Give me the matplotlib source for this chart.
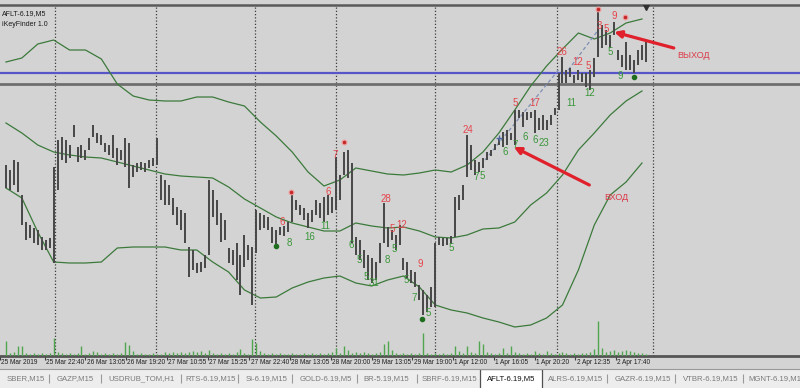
import matplotlib
matplotlib.use("Agg")
import matplotlib.pyplot as plt
import numpy as np
from matplotlib.patches import Rectangle

plt.rcParams['font.family'] = ['Liberation Sans', 'DejaVu Sans']

# --- price bars (AFLT-6.19, M5), one value per bar, in chart points ---
highs = [191, 186, 196, 194, 161, 134, 131, 128, 126, 119,
         116, 118, 189, 216, 219, 216, 211, 231, 209, 211,
         206, 218, 231, 223, 221, 213, 211, 221, 208, 206,
         218, 213, 191, 193, 194, 193, 196, 198, 218, 181,
         176, 171, 158, 149, 146, 143, 109, 106, 93, 94,
         101, 176, 166, 156, 143, 136, 108, 106, 113, 101,
         121, 111, 109, 146, 143, 141, 139, 129, 126, 129,
         130, 134, 163, 156, 151, 148, 143, 146, 156, 153,
         159, 161, 159, 199, 181, 204, 206, 193, 119, 116,
         106, 101, 98, 94, 113, 153, 129, 126, 121, 131,
         98, 94, 86, 84, 71, 66, 61, 69, 113, 119,
         118, 118, 120, 159, 161, 171, 221, 211, 196, 194,
         198, 204, 206, 212, 218, 224, 226, 223, 246, 246,
         244, 244, 244, 246, 238, 241, 236, 241, 248, 283,
         299, 286, 288, 281, 286, 283, 283, 286, 298, 346,
         331, 326, 321, 334, 306, 301, 314, 301, 296, 306,
         311, 316]
lows = [168, 166, 171, 164, 131, 116, 118, 113, 111, 106,
        106, 108, 93, 166, 196, 193, 198, 219, 194, 198,
        196, 206, 219, 213, 211, 204, 201, 198, 191, 196,
        189, 168, 179, 184, 186, 184, 188, 190, 191, 156,
        151, 151, 141, 131, 126, 113, 79, 86, 83, 84,
        88, 101, 139, 131, 114, 116, 93, 91, 76, 61,
        89, 96, 51, 103, 126, 128, 126, 113, 111, 121,
        120, 124, 134, 146, 141, 136, 128, 134, 141, 138,
        134, 141, 143, 146, 156, 181, 178, 113, 101, 96,
        88, 76, 73, 76, 93, 113, 109, 116, 106, 111,
        86, 78, 73, 69, 56, 41, 44, 49, 49, 111,
        110, 111, 112, 119, 146, 156, 179, 186, 181, 184,
        188, 196, 200, 206, 211, 209, 211, 216, 211, 238,
        229, 236, 238, 223, 226, 226, 226, 231, 241, 246,
        273, 273, 279, 273, 276, 274, 269, 266, 279, 299,
        308, 311, 308, 321, 296, 289, 286, 286, 283, 291,
        296, 294]
volumes = [15, 3, 4, 10, 10, 3, 2, 3, 2, 3,
           2, 3, 18, 4, 3, 2, 3, 2, 3, 10,
           2, 3, 5, 4, 2, 3, 2, 3, 2, 3,
           14, 11, 5, 2, 3, 2, 2, 3, 2, 2,
           4, 3, 4, 3, 4, 3, 4, 5, 4, 5,
           3, 6, 3, 2, 3, 2, 3, 2, 4, 7,
           3, 2, 17, 13, 5, 3, 2, 3, 2, 3,
           2, 2, 3, 2, 2, 3, 2, 3, 2, 3,
           2, 3, 4, 8, 3, 10, 6, 3, 4, 3,
           4, 3, 2, 3, 4, 12, 15, 6, 3, 2,
           3, 2, 3, 2, 3, 23, 3, 2, 3, 2,
           3, 2, 3, 10, 5, 3, 10, 4, 3, 15,
           12, 4, 3, 2, 3, 8, 3, 10, 4, 3,
           2, 3, 2, 5, 3, 2, 5, 3, 2, 3,
           4, 3, 2, 3, 2, 3, 3, 4, 7, 35,
           8, 4, 5, 6, 4, 5, 6, 5, 4, 3,
           3, 2]

# --- Bollinger bands, every 4th bar ---
band_upper = [294, 298, 312, 316, 306, 306, 297, 272, 260, 256, 255, 255, 259, 259,
              254, 250, 234, 220, 204, 184, 170, 176, 188, 185, 182, 181, 183, 186,
              184, 191, 204, 223, 246, 270, 290, 307, 323, 317, 323, 333, 337]
band_mid = [233, 223, 211, 204, 201, 199, 198, 194, 190, 186, 182, 180, 179, 178,
            169, 157, 148, 139, 133, 129, 125, 125, 133, 130, 128, 129, 125, 119,
            118, 121, 127, 128, 134, 151, 163, 181, 206, 223, 241, 255, 265]
band_lower = [168, 158, 124, 94, 93, 93, 94, 108, 109, 109, 109, 106, 106, 94,
              84, 66, 58, 59, 68, 74, 78, 80, 73, 70, 76, 80, 69, 51,
              46, 43, 38, 34, 29, 31, 38, 51, 86, 131, 161, 174, 193]

# --- iKeyFinder marks ---
red_lbl_x = [69.5, 81, 82.75, 95.5, 97.25, 99.5, 104.25, 116.25, 128, 133,
             140, 143.75, 146.5, 149.25, 151, 153]
red_lbl_y = [134, 164, 201, 157, 127, 131, 92, 226, 253, 253,
             304, 294, 290, 330, 327, 340]
red_lbl = ["6", "6", "7", "28", "5", "12", "9", "24", "5", "17",
           "26", "12", "5", "3", "5", "9"]
green_lbl_x = [71.25, 76.5, 80.25, 86.75, 88.75, 90.75, 92.5, 96, 97.75, 100.75,
               102.75, 106.25, 112, 118.25, 119.75, 125.5, 128, 130.75, 133.25,
               135.25, 142.25, 146.75, 152, 154.5]
green_lbl_y = [113, 119, 130, 111, 96, 79, 73, 96, 107, 76,
               58, 43, 108, 179, 180, 204, 211, 219, 216,
               213, 253, 263, 304, 280]
green_lbl = ["8", "16", "11", "6", "5", "5", "31", "8", "5", "5",
             "7", "5", "5", "7", "5", "6", "7", "6", "6",
             "23", "11", "12", "5", "9"]
red_dot_x = [71.75, 85, 149, 155.75]
red_dot_y = [164, 214, 347, 339]
green_dot_x = [68, 104.75, 158]
green_dot_y = [110, 37, 279]
cross_x = [124]
cross_y = [218]
trend_lines = [((120.5, 196), (139, 286)), ((140.5, 281), (149, 326))]

level_blue = 283
level_gray = 272
separators = [12.25, 37.75, 62.75, 83, 108, 138.5, 162.75]

tick_pos = [-1.5, 9.75, 20, 30.25, 40.5, 50.75, 61.25, 71.5, 81.75, 92,
            102.25, 112.5, 122.75, 133, 143.25, 153.5]
tick_labels = ["25 Mar 2019", "25 Mar 22:40", "26 Mar 13:05", "26 Mar 19:20",
               "27 Mar 10:55", "27 Mar 15:25", "27 Mar 22:40", "28 Mar 13:05",
               "28 Mar 20:00", "29 Mar 13:05", "29 Mar 19:00", "1 Apr 12:00",
               "1 Apr 16:05", "1 Apr 20:20", "2 Apr 12:35", "2 Apr 17:40"]

tabs = ["SBER,M15", "GAZP,M15", "USDRUB_TOM,H1", "RTS-6.19,M15", "Si-6.19,M15",
        "GOLD-6.19,M5", "BR-5.19,M15", "SBRF-6.19,M15", "AFLT-6.19,M5",
        "ALRS-6.19,M15", "GAZR-6.19,M15", "VTBR-6.19,M15", "MGNT-6.19,M1"]
tab_x = [7, 57, 108, 185, 246, 300, 363, 422, 487, 548, 615, 683, 748]
tab_sep = [49, 101, 181, 238, 292, 357, 417, 607, 675, 743]
active_tab = "AFLT-6.19,M5"

RED = '#e5454c'
GREEN = '#3a963a'

fig = plt.figure(figsize=(8, 3.88), dpi=100, facecolor='#d4d4d4')
ax = fig.add_axes([0, 32 / 388, 1, 351 / 388])
ax.set_facecolor('#d3d3d3')
ax.set_xlim(-0.25, 199.75)
ax.set_ylim(0, 351)

idx = np.arange(len(highs))
band_x = np.arange(0, len(highs), 4)

for s in separators:
    ax.axvline(s, color='#3c3c3c', lw=0.9, ls=(0, (1, 1.6)), zorder=1)
ax.axhline(level_blue, color='#5656c8', lw=1.6, zorder=2)
ax.axhline(level_gray, color='#6e6e6e', lw=2.0, zorder=2)

ax.plot(band_x, band_upper, color='#3c7a3c', lw=0.9, zorder=3)
ax.plot(band_x, band_mid, color='#3c7a3c', lw=0.9, zorder=3)
ax.plot(band_x, band_lower, color='#3c7a3c', lw=0.9, zorder=3)

for (x0, y0), (x1, y1) in trend_lines:
    ax.plot([x0, x1], [y0, y1], color='#8090b4', lw=0.9, ls=(0, (3, 2)), zorder=3)

ax.vlines(idx, lows, highs, color='#474747', lw=1.4, zorder=4)

vax = ax.twinx()
vax.set_ylim(0, 351)
vax.set_axis_off()
vax.vlines(idx, 0, volumes, color='#4fa64f', lw=1.0)

for x, y, s in zip(red_lbl_x, red_lbl_y, red_lbl):
    ax.text(x, y, s, color=RED, fontsize=7, ha='center', va='center', zorder=6)
for x, y, s in zip(green_lbl_x, green_lbl_y, green_lbl):
    ax.text(x, y, s, color=GREEN, fontsize=7, ha='center', va='center', zorder=6)
ax.plot(red_dot_x, red_dot_y, 'o', ms=3.4, mfc='#c42a2a', mec='#f09a9a', mew=0.8, zorder=6)
ax.plot(green_dot_x, green_dot_y, 'o', ms=3, mfc='#1f6e1f', mec='#1f6e1f', zorder=6)
ax.plot(cross_x, cross_y, '+', ms=4, mew=1.0, color='#5068a0', zorder=6)
ax.plot([161], [349], 'v', ms=4, color='#303030', zorder=6)

# arrows with captions
arrow_style = dict(arrowstyle='-|>', color='#e0202a', lw=2.3, mutation_scale=10,
                   shrinkA=0, shrinkB=0)
ax.annotate("", xy=(127.75, 209), xytext=(146.75, 171), arrowprops=arrow_style, zorder=7)
ax.annotate("", xy=(153, 324), xytext=(168, 308), arrowprops=arrow_style, zorder=7)
ax.text(153.5, 159, "ВХОД", color='#dc3a48', fontsize=6.5, ha='center', va='center')
ax.text(173, 300, "ВЫХОД", color='#dc3a48', fontsize=6.5, ha='center', va='center')

ax.text(0.003, 0.985, "AFLT-6.19,M5", transform=ax.transAxes, fontsize=5,
        color='#1a1a1a', va='top', ha='left')
ax.text(0.003, 0.953, "iKeyFinder 1.0", transform=ax.transAxes, fontsize=5,
        color='#1a1a1a', va='top', ha='left')

# time axis
for sp in ['left', 'right']:
    ax.spines[sp].set_visible(False)
ax.spines['top'].set_color('#5a5a5a')
ax.spines['top'].set_linewidth(1.8)
ax.spines['bottom'].set_color('#555555')
ax.spines['bottom'].set_linewidth(2.0)
ax.set_yticks([])
ax.set_xticks(tick_pos)
ax.set_xticklabels([])
ax.tick_params(axis='x', length=3, width=0.8, color='#404040', direction='out')
for x, s in zip(tick_pos, tick_labels):
    ax.text(x + 0.3, -0.018, s, transform=ax.get_xaxis_transform(), fontsize=4.7,
            color='#1e1e1e', ha='left', va='center', clip_on=False)

# symbol tabs
tab = fig.add_axes([0, 0, 1, 19 / 388])
tab.set_xlim(0, 800)
tab.set_ylim(19, 0)
tab.set_facecolor('#ededed')
tab.set_xticks([])
tab.set_yticks([])
for sp in ['left', 'right', 'bottom']:
    tab.spines[sp].set_visible(False)
tab.spines['top'].set_color('#9a9a9a')
tab.spines['top'].set_linewidth(0.8)
tab.add_patch(Rectangle((480, 0.3), 62, 19.5, facecolor='white', edgecolor='#505050', lw=0.9))
tab.vlines(tab_sep, 5, 14, color='#9a9a9a', lw=0.8)
for x, s in zip(tab_x, tabs):
    tab.text(x, 9.5, s, fontsize=5.6, ha='left', va='center',
             color='#111111' if s == active_tab else '#7a7a7a')

fig.savefig("out.png", dpi=100, facecolor=fig.get_facecolor())
